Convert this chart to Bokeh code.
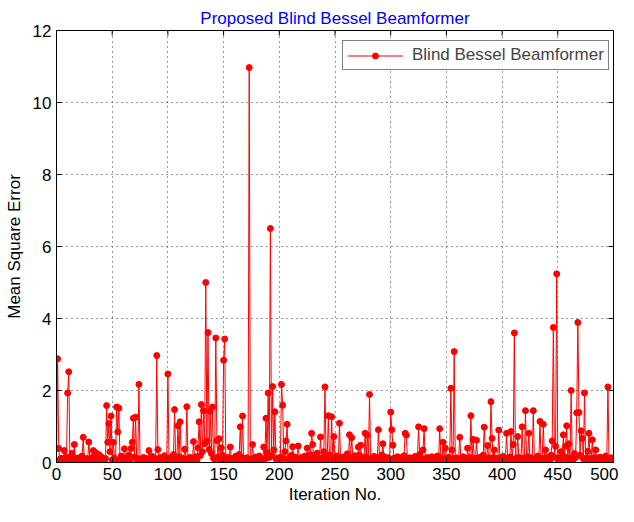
import math
from bokeh.plotting import figure
from bokeh.models import Range1d, Legend, LegendItem, FixedTicker
from bokeh.embed import file_html
from bokeh.resources import INLINE

title_text = "Proposed Blind Bessel Beamformer"
series_name = "Blind Bessel Beamformer"
x_label = "Iteration No."
y_label = "Mean Square Error"
x_ticks = [0, 50, 100, 150, 200, 250, 300, 350, 400, 450, 500]
y_ticks = [0, 2, 4, 6, 8, 10, 12]

mse = [
    0.05, 2.88, 0.39, 0.08, 0.12, 0.04, 0.10, 0.33, 0.06, 0.15,
    1.93, 2.52, 0.14, 0.03, 0.26, 0.09, 0.50, 0.11, 0.04, 0.07,
    0.13, 0.05, 0.02, 0.18, 0.70, 0.08, 0.03, 0.11, 0.06, 0.57,
    0.09, 0.04, 0.14, 0.33, 0.07, 0.28, 0.12, 0.05, 0.22, 0.10,
    0.16, 0.04, 0.08, 0.02, 0.11, 1.58, 0.56, 1.08, 0.30, 1.29,
    0.07, 0.56, 0.12, 0.04, 1.54, 0.85, 1.51, 0.09, 0.18, 0.05,
    0.10, 0.38, 0.06, 0.13, 0.03, 0.21, 0.08, 0.39, 0.56, 1.23,
    0.15, 1.26, 0.07, 0.11, 2.17, 0.05, 0.09, 0.02, 0.14, 0.06,
    0.12, 0.04, 0.08, 0.33, 0.10, 0.03, 0.17, 0.06, 0.12, 0.05,
    2.97, 0.36, 0.08, 0.14, 0.03, 0.10, 0.06, 0.19, 0.04, 0.11,
    2.46, 0.07, 0.13, 0.05, 0.10, 0.22, 1.47, 0.09, 0.04, 1.02,
    0.16, 1.13, 0.06, 0.12, 0.03, 0.37, 0.08, 1.55, 0.11, 0.05,
    0.14, 0.07, 0.02, 0.58, 0.10, 0.16, 0.06, 0.41, 1.13, 0.19,
    1.61, 0.30, 1.44, 0.52, 5.00, 0.60, 3.61, 0.36, 1.42, 0.25,
    1.54, 0.12, 0.09, 3.46, 0.61, 0.15, 0.66, 0.08, 0.41, 0.20,
    2.84, 3.43, 0.11, 0.05, 0.14, 0.07, 0.43, 0.10, 0.03, 0.12,
    0.06, 0.18, 0.04, 0.09, 0.22, 0.99, 0.14, 1.29, 0.08, 0.11,
    0.05, 0.13, 0.07, 10.97, 0.09, 0.04, 0.50, 0.12, 0.06, 0.15,
    0.03, 0.10, 0.18, 0.06, 0.12, 0.04, 0.43, 0.09, 1.23, 0.27,
    1.93, 0.14, 6.50, 0.20, 2.11, 0.35, 1.41, 0.10, 0.05, 0.12,
    0.08, 0.15, 2.17, 1.59, 0.11, 0.30, 0.60, 1.06, 0.07, 0.13,
    0.04, 0.20, 0.44, 0.09, 0.15, 0.05, 0.11, 0.46, 0.08, 0.03,
    0.14, 0.06, 0.10, 0.18, 0.04, 0.40, 0.12, 0.07, 0.22, 0.81,
    0.50, 0.09, 0.14, 0.05, 0.26, 0.10, 0.03, 0.71, 0.12, 0.06,
    0.30, 2.10, 0.15, 0.08, 1.30, 0.21, 0.10, 1.27, 0.05, 0.72,
    0.13, 0.07, 0.18, 0.04, 1.09, 0.11, 0.06, 0.15, 0.03, 0.09,
    0.12, 0.24, 0.05, 0.77, 0.10, 0.69, 0.14, 0.06, 0.19, 0.08,
    0.11, 0.43, 0.20, 0.48, 0.07, 0.13, 0.04, 0.81, 0.16, 0.76,
    0.10, 1.89, 0.06, 0.12, 0.03, 0.17, 0.08, 0.14, 0.05, 0.91,
    0.11, 0.07, 0.21, 0.52, 0.09, 0.15, 0.04, 0.10, 0.13, 0.06,
    1.40, 0.91, 0.48, 0.12, 0.05, 0.09, 0.16, 0.04, 0.11, 0.07,
    0.14, 0.03, 0.19, 0.81, 0.76, 0.10, 0.06, 0.13, 0.05, 0.08,
    0.12, 0.04, 0.17, 0.07, 0.10, 0.99, 0.22, 0.06, 0.11, 0.35,
    0.94, 0.09, 0.05, 0.14, 0.07, 0.11, 0.03, 0.16, 0.08, 0.12,
    0.05, 0.10, 0.18, 0.06, 0.94, 0.13, 0.04, 0.56, 0.09, 0.40,
    0.12, 0.07, 0.15, 0.05, 2.06, 0.35, 0.10, 3.08, 0.06, 0.13,
    0.04, 0.11, 0.70, 0.09, 0.05, 0.16, 0.07, 0.12, 0.03, 0.40,
    0.10, 0.14, 1.30, 0.08, 0.64, 0.11, 0.05, 0.62, 0.13, 0.06,
    0.09, 0.15, 0.04, 0.20, 0.98, 0.10, 0.07, 0.47, 0.12, 0.05,
    1.69, 0.67, 0.14, 0.35, 0.08, 0.11, 0.04, 0.90, 0.13, 0.06,
    0.10, 0.17, 0.05, 0.09, 0.81, 0.12, 0.03, 0.15, 0.86, 0.07,
    0.50, 3.60, 0.11, 0.06, 0.72, 0.14, 0.04, 0.09, 0.99, 0.12,
    0.05, 1.44, 0.10, 0.16, 0.81, 0.07, 0.13, 0.04, 1.44, 0.08,
    0.11, 0.06, 0.18, 0.10, 1.14, 0.05, 0.12, 1.06, 0.09, 0.35,
    0.14, 0.07, 0.11, 0.04, 0.20, 0.60, 3.75, 0.15, 0.45, 5.24,
    0.08, 0.13, 0.05, 0.30, 0.10, 0.77, 0.16, 0.45, 1.02, 0.07,
    0.52, 0.12, 2.00, 0.04, 0.09, 0.25, 0.14, 1.38, 3.89, 1.39,
    0.20, 0.88, 0.67, 0.10, 1.93, 0.06, 0.13, 0.31, 0.81, 0.08,
    0.11, 0.63, 0.05, 0.14, 0.35, 0.07, 0.10, 0.04, 0.15, 0.09,
    0.06, 0.12, 0.03, 0.18, 0.10, 2.10, 0.05, 0.08, 0.13, 0.06,
]
iterations = list(range(len(mse)))

FONT = "Liberation Sans"
FS = "17px"
X_MIN, X_MAX = 0, 500
Y_MIN, Y_MAX = 0, 12

p = figure(width=618, height=506, output_backend="svg", toolbar_location=None,
           x_range=Range1d(X_MIN, X_MAX), y_range=Range1d(Y_MIN, Y_MAX),
           min_border_left=56, min_border_right=5, min_border_top=30,
           min_border_bottom=40, background_fill_color="white",
           border_fill_color="white")

p.title.text = title_text
p.title.align = "center"
p.title.text_color = "#0000ff"
p.title.text_font = FONT
p.title.text_font_size = FS
p.title.text_font_style = "normal"
p.title.standoff = 6

for ax in (p.xaxis[0], p.yaxis[0]):
    ax.major_tick_in = 5
    ax.major_tick_out = 0
    ax.minor_tick_line_color = None
    ax.axis_line_color = "black"
    ax.major_tick_line_color = "black"
    ax.major_label_text_font = FONT
    ax.major_label_text_font_size = FS
    ax.major_label_text_color = "black"
    ax.axis_label_text_font = FONT
    ax.axis_label_text_font_size = FS
    ax.axis_label_text_font_style = "normal"
    ax.axis_label_text_color = "black"

p.xaxis[0].ticker = FixedTicker(ticks=x_ticks)
p.yaxis[0].ticker = FixedTicker(ticks=y_ticks)
p.xaxis[0].axis_label = x_label
p.yaxis[0].axis_label = y_label
p.xaxis[0].major_label_standoff = 5
p.xaxis[0].axis_label_standoff = 2
p.yaxis[0].major_label_standoff = 5
p.yaxis[0].axis_label_standoff = 6

p.outline_line_color = "black"
p.xgrid.ticker = FixedTicker(ticks=x_ticks)
p.ygrid.ticker = FixedTicker(ticks=y_ticks)
for g in (p.xgrid[0], p.ygrid[0]):
    g.grid_line_color = "black"
    g.grid_line_dash = "1 4"
    g.grid_line_alpha = 0.8

# inward tick marks on the top and right edges of the box (clipped to the frame)
p.scatter(x_ticks, [Y_MAX] * len(x_ticks), marker="dash", size=10,
          angle=math.pi / 2, line_color="black", line_width=1)
p.scatter([X_MAX] * len(y_ticks), y_ticks, marker="dash", size=10,
          line_color="black", line_width=1)

line_r = p.line(iterations, mse, line_color="#ff0000", line_width=1)
dot_r = p.scatter(iterations, mse, marker="circle", size=6,
                  fill_color="#ff0000", line_color="#ff0000")

legend = Legend(items=[LegendItem(label=series_name, renderers=[line_r, dot_r])],
                location=(286, 392), padding=4, margin=0, glyph_width=56,
                glyph_height=15, label_standoff=9, label_height=16,
                label_text_font=FONT, label_text_font_size=FS,
                border_line_color="black", border_line_width=1,
                background_fill_color="white", background_fill_alpha=1)
p.add_layout(legend, "center")

open("out.html", "w").write(file_html(p, INLINE))
